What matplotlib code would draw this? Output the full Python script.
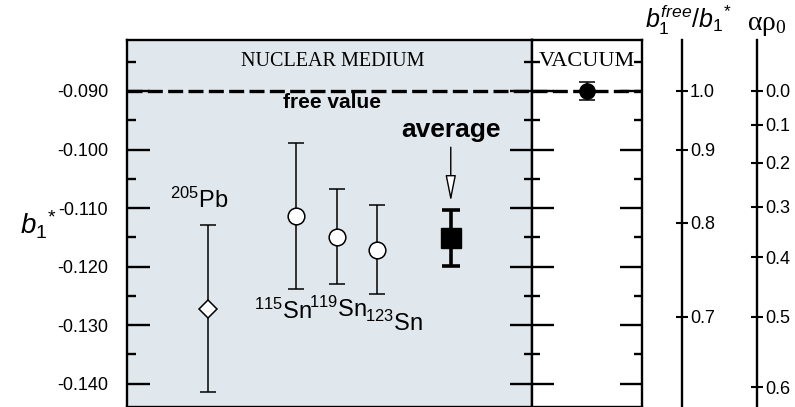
import numpy as np
import matplotlib.pyplot as plt
from matplotlib.ticker import MultipleLocator

plt.rcParams['font.family'] = 'Liberation Sans'
plt.rcParams['mathtext.fontset'] = 'custom'
plt.rcParams['mathtext.rm'] = 'Liberation Sans'
plt.rcParams['mathtext.it'] = 'Liberation Sans:italic'

# data (b1* values with symmetric errors)
labels = [r'$\mathregular{^{205}Pb}$', r'$\mathregular{^{115}Sn}$',
          r'$\mathregular{^{119}Sn}$', r'$\mathregular{^{123}Sn}$']
b1_vals = [-0.1272, -0.1114, -0.1149, -0.1171]
b1_errs = [0.0143, 0.0125, 0.0081, 0.0076]
avg_val = -0.1151
avg_err = 0.0048
vac_val = -0.0900
vac_err = 0.0015
b1_free = -0.090

y_ticks = [-0.090, -0.100, -0.110, -0.120, -0.130, -0.140]
ratio_ticks = [1.0, 0.9, 0.8, 0.7]
alpha_ticks = [0.0, 0.1, 0.2, 0.3, 0.4, 0.5, 0.6]

# layout
x_pts = [1.60, 3.35, 4.15, 4.95]
x_avg = 6.40
x_vac = 1.0
lab_pos = [(1.42, -0.1100), (3.09, -0.1290), (4.16, -0.1286), (5.27, -0.1310)]
ylim = (-0.1440, -0.0812)

W, H = 795, 407
fig = plt.figure(figsize=(W / 100, H / 100), dpi=100)
top = 1 - 39.5 / H


def fx(px):
    return px / W


ax = fig.add_axes([fx(127), 0, fx(531.7 - 127), top])
axv = fig.add_axes([fx(531.7), 0, fx(641.7 - 531.7), top])
ax.set_facecolor('#e1e8ed')
axv.set_facecolor('white')

for a in (ax, axv):
    a.set_ylim(*ylim)
    a.set_xticks([])
    for s in a.spines.values():
        s.set_linewidth(1.7)
    a.axhline(b1_free, color='black', lw=2.4, dashes=(4.5, 1.6), zorder=1)
    a.yaxis.set_minor_locator(MultipleLocator(0.005))
ax.set_xlim(0, 8)
axv.set_xlim(0, 2)

ax.set_yticks(y_ticks, [f'{v:.3f}' for v in y_ticks])
ax.tick_params(axis='y', which='major', direction='in', length=16.5, width=1.7,
               labelsize=13, pad=13.5)
ax.tick_params(axis='y', which='minor', direction='in', length=6.5, width=1.7)

axv.set_yticks(y_ticks)
axv.tick_params(axis='y', which='both', left=True, right=False, labelleft=False,
                direction='inout', width=1.7)
axv.tick_params(axis='y', which='major', length=32)
axv.tick_params(axis='y', which='minor', length=11.5)
axv.spines['left'].set_zorder(5)

# right-side inward ticks of the vacuum panel
axr = axv.twinx()
axr.set_ylim(*ylim)
axr.set_yticks(y_ticks)
axr.yaxis.set_minor_locator(MultipleLocator(0.005))
axr.tick_params(axis='y', which='both', direction='in', width=1.7, labelright=False)
axr.tick_params(axis='y', which='major', length=16)
axr.tick_params(axis='y', which='minor', length=5.8)
for s in axr.spines.values():
    s.set_visible(False)

# data points
ax.errorbar(x_pts[0], b1_vals[0], yerr=b1_errs[0], fmt='D', ms=9, mfc='white',
            mec='black', mew=1.1, color='black', lw=1.1, capsize=6, capthick=1.1, zorder=3)
ax.errorbar(x_pts[1:], b1_vals[1:], yerr=b1_errs[1:], fmt='o', ms=12, mfc='white',
            mec='black', mew=1.1, color='black', lw=1.1, capsize=6, capthick=1.1, zorder=3)
ax.errorbar(x_avg, avg_val, yerr=avg_err, fmt='s', ms=15, color='black',
            lw=2.6, capsize=6.5, capthick=2.6, zorder=3)
axv.errorbar(x_vac, vac_val, yerr=vac_err, fmt='o', ms=11, color='black',
             lw=1.1, capsize=6, capthick=1.1, zorder=3)

for lab, (lx, ly) in zip(labels, lab_pos):
    ax.text(lx, ly, lab, fontsize=17, ha='center', va='baseline')

ax.text(4.07, -0.0857, 'NUCLEAR MEDIUM', family='Liberation Serif', fontsize=14.5,
        ha='center', va='baseline')
axv.text(1.01, -0.0857, 'VACUUM', family='Liberation Serif', fontsize=16,
         ha='center', va='baseline')
ax.text(4.06, -0.0929, 'free value', fontsize=15, weight='bold',
        ha='center', va='baseline')
ax.annotate('average', xy=(x_avg, avg_val + avg_err), xytext=(x_avg, -0.0978),
            fontsize=19, weight='bold', ha='center', va='baseline',
            arrowprops=dict(arrowstyle='-|>,head_length=1.6,head_width=0.32',
                            fc='white', ec='black', lw=1.0,
                            shrinkA=2, shrinkB=6, mutation_scale=10))

# secondary scales
for px, ticks, vals in [(681.7, ratio_ticks, [b1_free / r for r in ratio_ticks]),
                        (757.3, alpha_ticks, [b1_free / (1 - 0.6 * a) for a in alpha_ticks])]:
    a2 = fig.add_axes([fx(px), 0, 0.0001, top])
    a2.patch.set_visible(False)
    for k in ('top', 'right', 'bottom'):
        a2.spines[k].set_visible(False)
    a2.spines['left'].set_linewidth(1.7)
    a2.set_xticks([])
    a2.set_ylim(*ylim)
    a2.set_yticks(vals, [f'{t:.1f}' for t in ticks])
    a2.yaxis.tick_right()
    a2.tick_params(axis='y', direction='inout', length=8, width=1.5,
                   labelsize=13, pad=2)

fig.text(fx(688), 1 - 28 / H, r'$\mathit{b_1^{free}/b_1}^{*}$', fontsize=18,
         ha='center', va='baseline')
fig.text(fx(767), 1 - 30 / H, r'$\mathregular{αρ_0}$', family='Liberation Serif',
         fontsize=20, ha='center', va='baseline')
fig.text(fx(20), 1 - 235 / H, r'$\mathit{b_1}^{*}$', fontsize=20,
         ha='left', va='baseline')

fig.savefig('out.png', dpi=100)
